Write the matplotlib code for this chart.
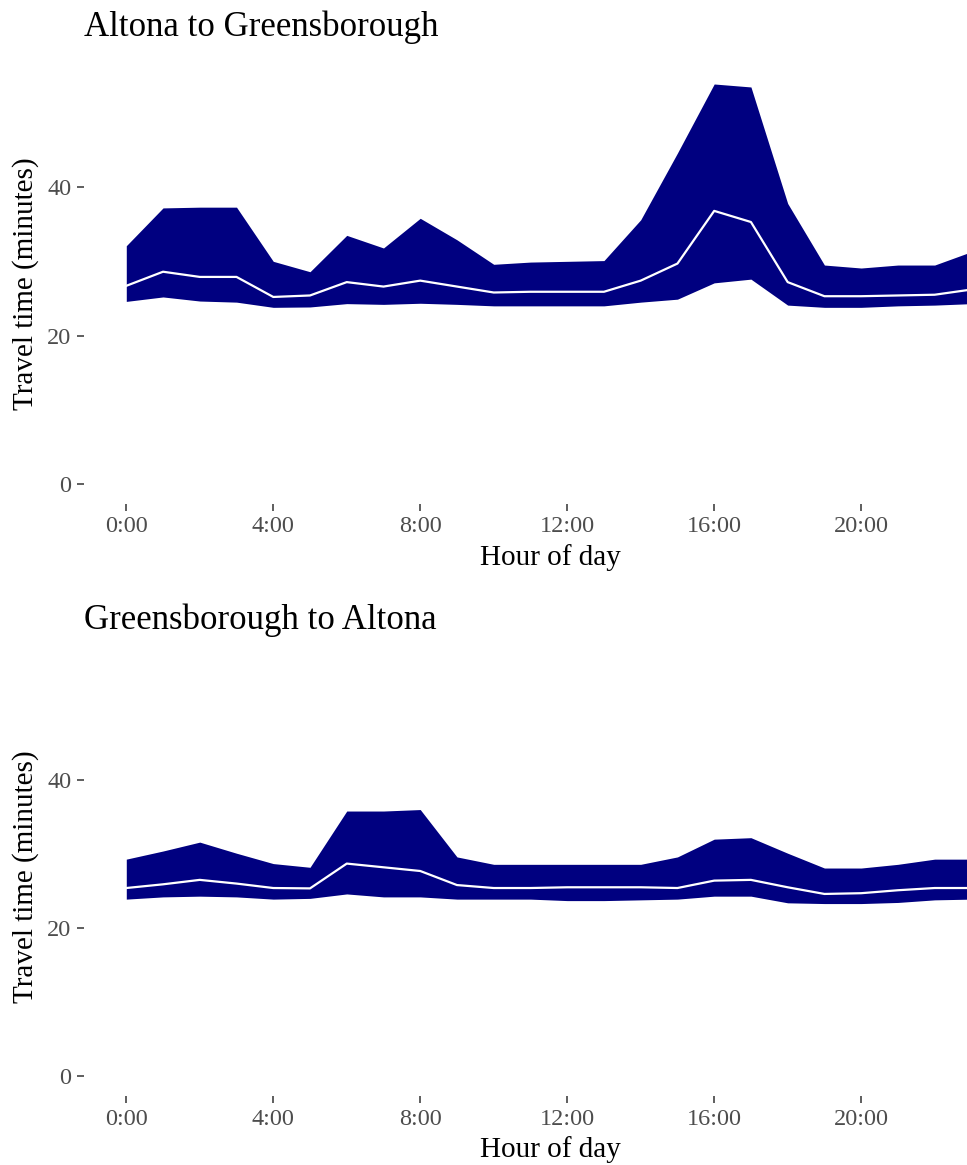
import numpy as np
import matplotlib.pyplot as plt

plt.rcParams['font.family'] = ['Liberation Serif', 'DejaVu Serif']

hours = np.arange(24)

# Altona to Greensborough
ag_low = [24.6, 25.2, 24.65, 24.5, 23.8, 23.85, 24.3, 24.2, 24.35, 24.2, 24.0, 24.0,
          24.0, 24.0, 24.5, 24.9, 27.1, 27.6, 24.1, 23.8, 23.8, 24.0, 24.1, 24.3]
ag_med = [26.7, 28.6, 27.9, 27.9, 25.2, 25.4, 27.2, 26.6, 27.4, 26.6, 25.8, 25.9,
          25.9, 25.9, 27.4, 29.7, 36.8, 35.3, 27.2, 25.3, 25.3, 25.4, 25.5, 26.2]
ag_high = [32.1, 37.2, 37.3, 37.3, 30.0, 28.6, 33.5, 31.8, 35.8, 32.9, 29.6, 29.9,
           30.0, 30.1, 35.6, 44.6, 53.9, 53.5, 37.8, 29.5, 29.1, 29.5, 29.5, 31.3]

# Greensborough to Altona
ga_low = [23.9, 24.2, 24.3, 24.2, 23.9, 24.0, 24.6, 24.2, 24.2, 23.9, 23.9, 23.9,
          23.7, 23.7, 23.8, 23.9, 24.3, 24.3, 23.4, 23.3, 23.3, 23.45, 23.8, 23.9]
ga_med = [25.4, 25.9, 26.5, 26.0, 25.4, 25.35, 28.7, 28.2, 27.7, 25.8, 25.4, 25.4,
          25.5, 25.5, 25.5, 25.4, 26.4, 26.5, 25.5, 24.6, 24.7, 25.1, 25.4, 25.4]
ga_high = [29.3, 30.4, 31.6, 30.1, 28.7, 28.2, 35.8, 35.8, 36.0, 29.6, 28.6, 28.6,
           28.6, 28.6, 28.6, 29.6, 32.0, 32.2, 30.1, 28.1, 28.1, 28.6, 29.3, 29.3]

panels = [
    ("Altona to Greensborough", ag_low, ag_med, ag_high),
    ("Greensborough to Altona", ga_low, ga_med, ga_high),
]

xticks = [0, 4, 8, 12, 16, 20]
xlabels = ["0:00", "4:00", "8:00", "12:00", "16:00", "20:00"]

fig = plt.figure(figsize=(9.67, 11.65), dpi=100)
positions = [[0.0869, 0.5674, 0.9131, 0.3777], [0.0869, 0.0592, 0.9131, 0.3768]]

for pos, (title, low, med, high) in zip(positions, panels):
    ax = fig.add_axes(pos)
    ax.fill_between(hours, low, high, color='#000080', linewidth=0)
    ax.plot(hours, med, color='white', linewidth=1.6)
    ax.set_xlim(-1.15, 22.88)
    ax.set_ylim(-2.7, 56.6)
    ax.set_xticks(xticks)
    ax.set_xticklabels(xlabels)
    ax.set_yticks([0, 20, 40])
    for s in ax.spines.values():
        s.set_visible(False)
    ax.tick_params(length=5, width=1.1, color='#333333', labelcolor='#4D4D4D',
                   labelsize=17.5, pad=4)
    ax.set_xlabel("Hour of day", fontsize=21)
    # the panel runs on past the right edge of the picture, so centre on the full panel
    ax.xaxis.set_label_coords(0.528, -0.092)
    ax.set_ylabel("Travel time (minutes)", fontsize=21, labelpad=6)
    ax.set_title(title, fontsize=25, loc='left', pad=20)

fig.savefig("out.png", dpi=100)
